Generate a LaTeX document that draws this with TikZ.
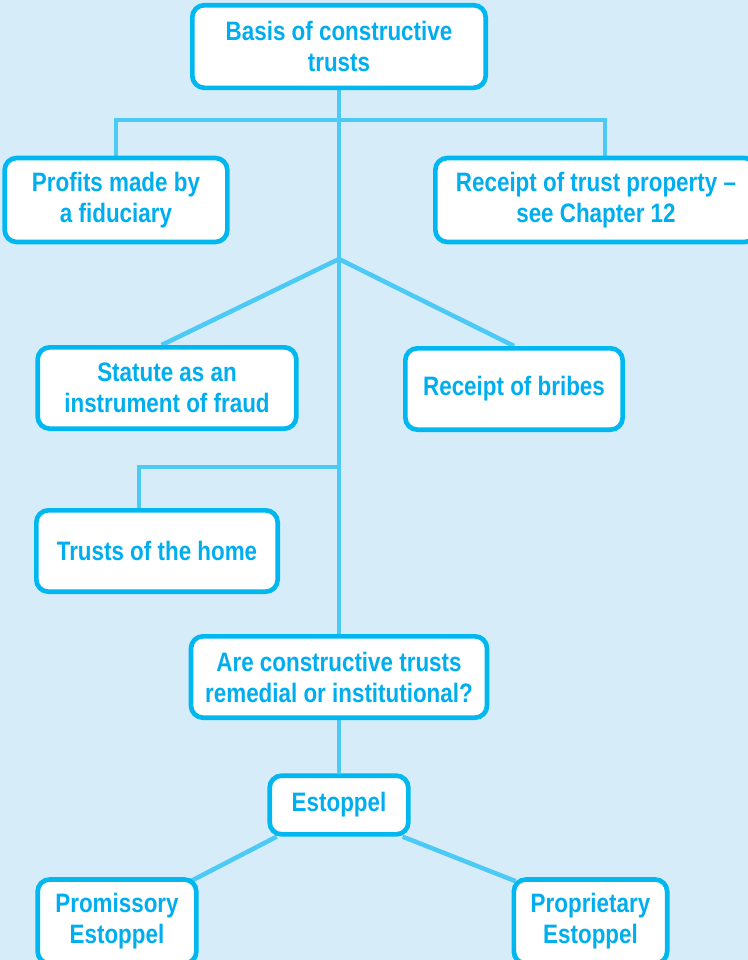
\documentclass[tikz,border=0pt]{standalone}
\usepackage{fontspec}
\setmainfont{Liberation Sans}[FakeStretch=0.84]
\usepackage{xcolor}
\usetikzlibrary{backgrounds}

\definecolor{paleblue}{HTML}{D6EDF9}
\definecolor{boxcyan}{HTML}{00B7F0}
\definecolor{textcyan}{HTML}{00AEEF}
\definecolor{linecyan}{HTML}{4CC9F4}

\tikzset{
    topic/.style={draw=boxcyan, line width=3.5pt, fill=white, rounded corners=9pt,
        text=textcyan, align=center, inner sep=0pt,
        font=\fontsize{20pt}{23.25pt}\selectfont\bfseries},
    link/.style={draw=linecyan, line width=3.4pt}
}

\begin{document}
\begin{tikzpicture}[x=0.75pt, y=-0.75pt]
    \useasboundingbox (0,0) rectangle (748,960);
    \clip (0,0) rectangle (748,960);
    \begin{scope}[on background layer]
        \fill[paleblue] (0,0) rectangle (748,960);
    \end{scope}

    \node[topic, minimum width=220pt, minimum height=62pt] (basis) at (339,46.5) {Basis of constructive\\trusts};
    \node[topic, minimum width=167pt, minimum height=63pt] (profits) at (116,200) {Profits made by\\a fiduciary};
    \node[topic, minimum width=241pt, minimum height=63pt] (receipt) at (596,200) {Receipt of trust property --\\see Chapter 12};
    \node[topic, minimum width=194pt, minimum height=61pt] (statute) at (167,388) {Statute as an\\instrument of fraud};
    \node[topic, minimum width=163pt, minimum height=61pt] (bribes) at (514,389) {Receipt of bribes};
    \node[topic, minimum width=181pt, minimum height=61pt] (home) at (157,551) {Trusts of the home};
    \node[topic, minimum width=222pt, minimum height=61pt] (remedial) at (339,677) {Are constructive trusts\\remedial or institutional?};
    \node[topic, minimum width=104pt, minimum height=44pt] (estoppel) at (339,805) {Estoppel};
    \node[topic, minimum width=119pt, minimum height=63pt] (promissory) at (117,921.5) {Promissory\\Estoppel};
    \node[topic, minimum width=115pt, minimum height=63pt] (proprietary) at (590.5,921.5) {Proprietary\\Estoppel};

    \coordinate (split1) at (339,120);
    \coordinate (fork) at (339,259);
    \coordinate (split2) at (339,467);

    \begin{scope}[on background layer]
        \draw[link] (basis.south) -- (remedial.north);
        \draw[link] (profits.north) |- (split1) -| ([xshift=6.75pt]receipt.north);
        \draw[link] (fork) -- ([xshift=-4pt]statute.north);
        \draw[link] (fork) -- (bribes.north);
        \draw[link] (split2) -| ([xshift=-13.5pt]home.north);
        \draw[link] (remedial.south) -- (estoppel.north);
        \draw[link] ([xshift=7pt]estoppel.south west) -- ([xshift=-6pt,yshift=-3pt]promissory.north east);
        \draw[link] ([xshift=-6pt]estoppel.south east) -- ([xshift=3pt,yshift=-3pt]proprietary.north west);
    \end{scope}
\end{tikzpicture}
\end{document}
